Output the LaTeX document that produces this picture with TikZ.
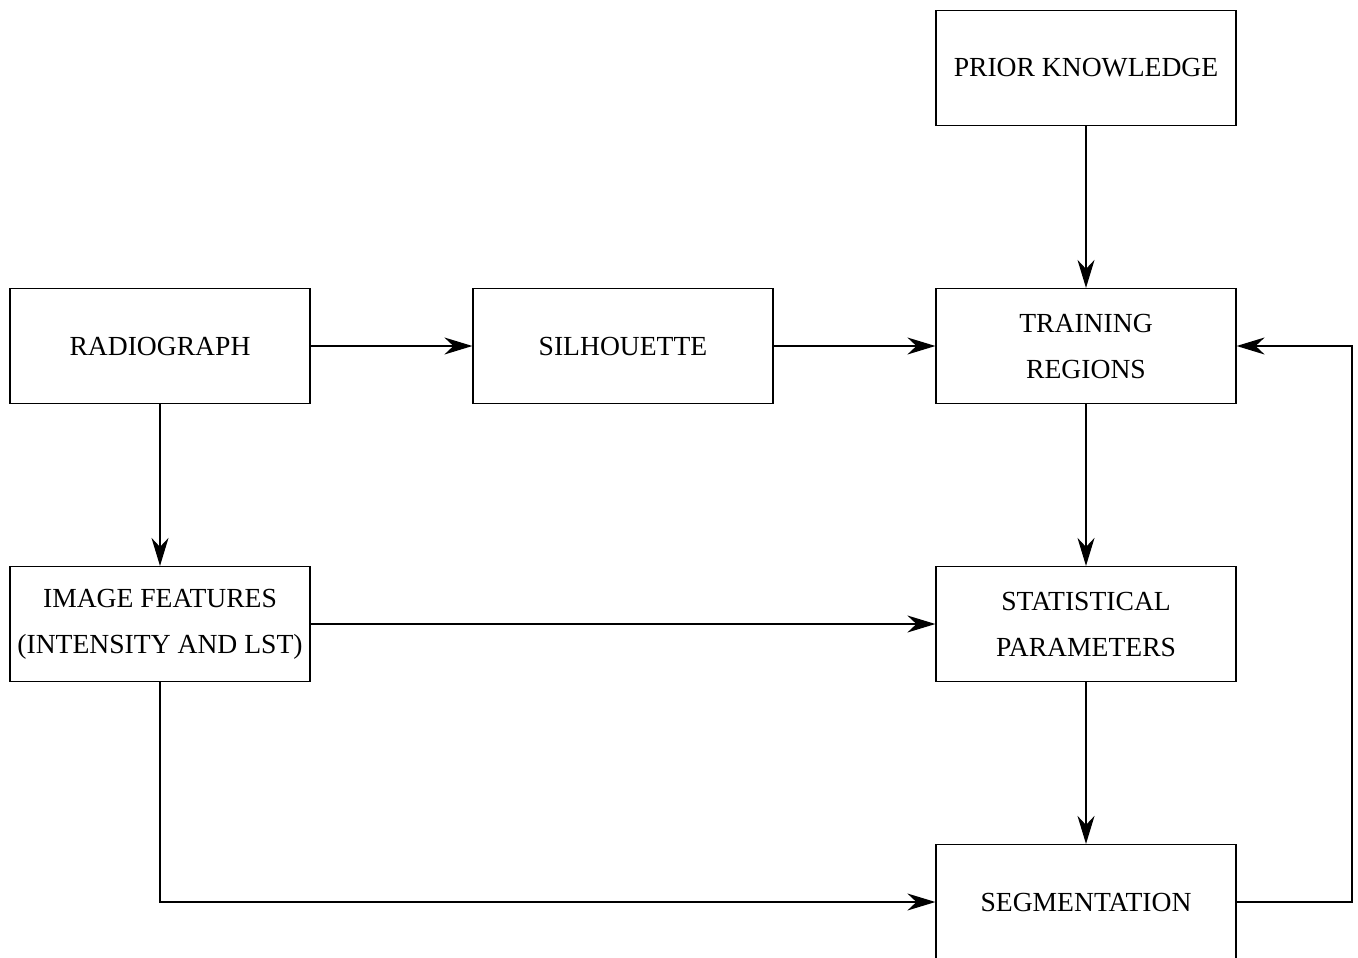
\documentclass[tikz,border=0pt]{standalone}
\usepackage{fontspec}
\setmainfont{Liberation Serif}
\usetikzlibrary{arrows.meta}
\begin{document}
\begin{tikzpicture}[x=1pt,y=-1pt,
  blk/.style={draw, line width=1.2pt, minimum width=300pt, minimum height=115pt, inner sep=0pt, align=center, font=\fontsize{27.6}{46}\selectfont},
  conn/.style={line width=1.2pt, -{Stealth[length=28pt,width=17pt,inset=9pt]}},
  plain/.style={line width=1.2pt}]
\useasboundingbox (0,0) rectangle (1358,958);
\node[blk] (rad) at (160,346) {RADIOGRAPH};
\node[blk] (sil) at (623,346) {SILHOUETTE};
\node[blk] (pri) at (1086,68) {PRIOR KNOWLEDGE};
\node[blk] (tra) at (1086,346) {TRAINING\\REGIONS};
\node[blk] (img) at (160,624) {IMAGE FEATURES\\(INTENSITY AND LST)};
\node[blk] (sta) at (1086,624) {STATISTICAL\\PARAMETERS};
\node[blk] (seg) at (1086,902) {SEGMENTATION};
\coordinate (c1) at (1352,902);
\coordinate (c2) at (1352,346);
\draw[conn] (rad) -- (sil);
\draw[conn] (sil) -- (tra);
\draw[conn] (pri) -- (tra);
\draw[conn] (tra) -- (sta);
\draw[conn] (sta) -- (seg);
\draw[conn] (rad) -- (img);
\draw[conn] (img) -- (sta);
\draw[conn] (img.south) |- (seg.west);
\draw[conn] (seg.east) -- (c1) -- (c2) -- (tra.east);
\end{tikzpicture}
\end{document}
